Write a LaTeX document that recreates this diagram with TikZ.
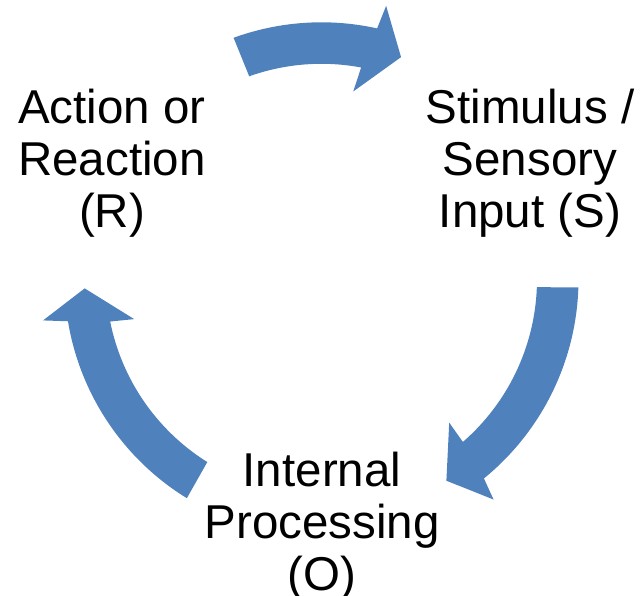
\documentclass[tikz,border=0pt]{standalone}
\usepackage{fontspec}
\setmainfont{Liberation Sans}
\definecolor{cycleblue}{RGB}{79,129,189}
\tikzset{
  label/.style={align=center, inner sep=0pt, anchor=north,
    font=\fontsize{47.5}{52}\selectfont, text=black},
  cyclearrow/.style={fill=cycleblue, draw=none}
}
\begin{document}
\begin{tikzpicture}[x=1pt, y=1pt]
  \useasboundingbox (0,0) rectangle (640,595);
  \coordinate (c) at (321.5,315.7);

  % stage labels
  \node[label] (R) at (112,506.5) {Action or\\Reaction\\(R)};
  \node[label] (S) at (530,506.5) {Stimulus /\\Sensory\\Input (S)};
  \node[label] (O) at (322,143.5) {Internal\\Processing\\(O)};

  % curved block arrows around the common centre
  \begin{scope}[shift={(c)}]
    % R -> S (top)
    \path[cyclearrow] (110:257) arc[start angle=110, end angle=77.5, radius=257]
      -- (76.7:281) -- (70.3:236) -- (80.4:190.5) -- (79.4:215.5)
      arc[start angle=79.4, end angle=109.6, radius=215.5] -- cycle;
    % S -> O (right)
    \path[cyclearrow] (-1.8:257) arc[start angle=-1.8, end angle=-50.8, radius=257]
      -- (-52:279.5) -- (-58.2:237) -- (-48.3:192) -- (-49:215.5)
      arc[start angle=-49, end angle=-2.1, radius=215.5] -- cycle;
    % O -> R (left)
    \path[cyclearrow] (238.4:257) arc[start angle=238.4, end angle=189.4, radius=257]
      -- (188.4:281.5) -- (182.2:237) -- (192:191.5) -- (191.3:215.5)
      arc[start angle=191.3, end angle=238, radius=215.5] -- cycle;
  \end{scope}
\end{tikzpicture}
\end{document}
